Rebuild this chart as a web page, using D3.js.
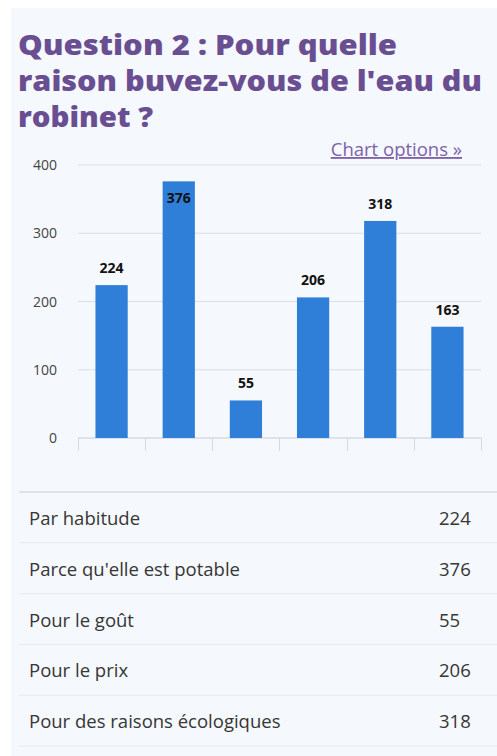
<!DOCTYPE html>
<html>
<head>
<meta charset="utf-8">
<script src="https://cdn.jsdelivr.net/npm/d3@7"></script>
<style>
  body { margin: 0; background: #fff; font-family: "Open Sans", sans-serif; overflow: hidden; }
  #panel { position: absolute; left: 11px; top: 8px; width: 486px; height: 900px; background: #f5f8fc; }
</style>
</head>
<body>
<div id="panel"></div>
<div id="my_dataviz" style="position:absolute;left:0;top:0;"></div>
<script>
// Chart data
var categories = ["Par habitude", "Parce qu'elle est potable", "Pour le goût", "Pour le prix", "Pour des raisons écologiques", "Autre"];
var values = [224, 376, 55, 206, 318, 163];
var yTicks = [0, 100, 200, 300, 400];
var titleLines = ["Question 2 : Pour quelle", "raison buvez-vous de l'eau du", "robinet ?"];

var width = 497;
var height = 756;

var svg = d3.select("#my_dataviz")
  .append("svg")
  .attr("width", width)
  .attr("height", height);

// Title (stretched to the width of the original heavier font)
var titleWidths = [379, 464, 135];
svg.append("g").selectAll("text")
  .data(titleLines)
  .enter()
  .append("text")
  .attr("x", 18)
  .attr("y", function(d, i) { return 55 + i * 36; })
  .attr("fill", "#6a4e92")
  .attr("textLength", function(d, i) { return titleWidths[i]; })
  .attr("lengthAdjust", "spacingAndGlyphs")
  .style("font-family", "'Open Sans', sans-serif")
  .style("font-weight", 800)
  .style("font-size", "29px")
  .text(function(d) { return d; });

// Chart options link
svg.append("text")
  .attr("x", 462)
  .attr("y", 156)
  .attr("text-anchor", "end")
  .attr("fill", "#7d62ab")
  .style("font-size", "18.5px")
  .style("text-decoration", "underline")
  .text("Chart options »");

// Scales
var x = d3.scaleBand()
  .domain(categories)
  .range([78, 481])
  .paddingInner(0.52)
  .paddingOuter(0.26);

var y = d3.scaleLinear()
  .domain([0, 400])
  .range([438, 165]);

// Gridlines
svg.append("g").selectAll("line")
  .data(yTicks)
  .enter()
  .append("line")
  .attr("x1", 78)
  .attr("x2", 481)
  .attr("y1", function(d) { return y(d); })
  .attr("y2", function(d) { return y(d); })
  .attr("stroke", function(d) { return d === 0 ? "#c8ccd2" : "#dcdfe4"; })
  .attr("stroke-width", 1);

// Y axis labels
svg.append("g").selectAll("text")
  .data(yTicks)
  .enter()
  .append("text")
  .attr("x", 57)
  .attr("y", function(d) { return y(d) + 5; })
  .attr("text-anchor", "end")
  .attr("fill", "#444")
  .style("font-size", "14px")
  .text(function(d) { return d; });

// Category tick marks under the axis
var tickPos = [78].concat(categories.map(function(c) { return x(c) + x.bandwidth() + x.step() * x.paddingInner() / 2; }));
tickPos[tickPos.length - 1] = 481;
svg.append("g").selectAll("line")
  .data(tickPos)
  .enter()
  .append("line")
  .attr("x1", function(d) { return Math.round(d) + 0.5; })
  .attr("x2", function(d) { return Math.round(d) + 0.5; })
  .attr("y1", 438)
  .attr("y2", 451)
  .attr("stroke", "#d6d9de");

// Bars
svg.append("g").selectAll("rect")
  .data(values)
  .enter()
  .append("rect")
  .attr("x", function(d, i) { return x(categories[i]); })
  .attr("y", function(d) { return y(d); })
  .attr("width", x.bandwidth())
  .attr("height", function(d) { return y(0) - y(d); })
  .attr("fill", "#2f7ed8");

// Value labels (inside the bar when there is no room above)
svg.append("g").selectAll("text")
  .data(values)
  .enter()
  .append("text")
  .attr("x", function(d, i) { return x(categories[i]) + x.bandwidth() / 2; })
  .attr("y", function(d) {
    var top = y(d) - 12;
    return top - 10 < y(400) ? y(d) + 22 : top;
  })
  .attr("text-anchor", "middle")
  .attr("fill", "#111")
  .style("font-size", "14px")
  .style("font-weight", 700)
  .text(function(d) { return d; });

// Table below the chart (only the rows that fit in the window)
var rowH = 50.8;
var tableTop = 492;
svg.append("line")
  .attr("x1", 19).attr("x2", 497)
  .attr("y1", tableTop).attr("y2", tableTop)
  .attr("stroke", "#d9dde2").attr("stroke-width", 1.5);

var visible = values.filter(function(d, i) { return tableTop + i * rowH + 40 < height; });

var rows = svg.append("g").selectAll("g")
  .data(visible)
  .enter()
  .append("g")
  .attr("transform", function(d, i) { return "translate(0," + (tableTop + i * rowH) + ")"; });

rows.append("text")
  .attr("x", 29)
  .attr("y", 33)
  .attr("fill", "#363636")
  .style("font-size", "18.5px")
  .text(function(d, i) { return categories[i]; });

rows.append("text")
  .attr("x", 439)
  .attr("y", 33)
  .attr("fill", "#363636")
  .style("font-size", "18.5px")
  .text(function(d) { return d; });

rows.append("line")
  .attr("x1", 19).attr("x2", 497)
  .attr("y1", rowH).attr("y2", rowH)
  .attr("stroke", "#e6e9ee");
</script>
</body>
</html>
